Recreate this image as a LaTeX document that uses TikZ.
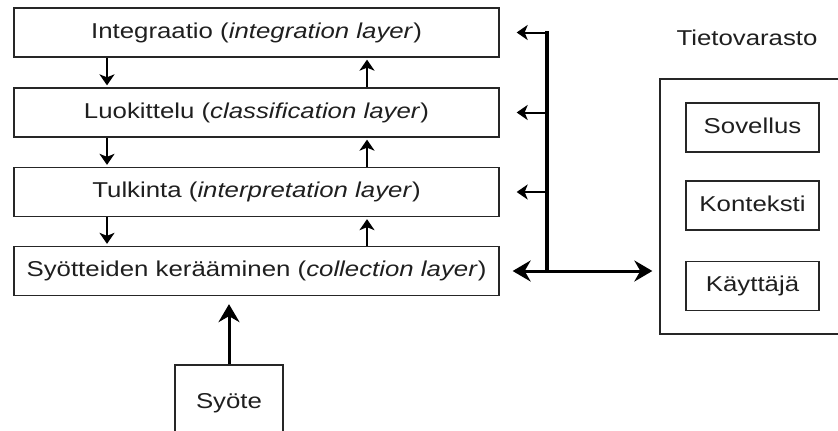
\documentclass[tikz,border=0pt]{standalone}
\usepackage{fontspec}
\setmainfont{Liberation Sans}[FakeStretch=1.2]
\usetikzlibrary{arrows.meta}
\begin{document}
\begin{tikzpicture}[x=1pt,y=-1pt,
  box/.style={draw=black!85, line width=1.3pt, inner sep=0pt,
    text=black!88, font=\fontsize{21.5}{25}\selectfont,
    text height=15pt, text depth=4pt},
  layer/.style={box, minimum width=485pt, minimum height=49pt},
  store/.style={box, minimum width=133pt, minimum height=49pt},
  thinarr/.style={line width=2pt, -{Stealth[length=11pt,width=15pt,inset=3pt]}},
  thickarr/.style={line width=3pt, -{Stealth[length=18pt,width=21pt,inset=6pt]}},
  busline/.style={line width=3.5pt, line cap=rect}]
\useasboundingbox (0,0) rectangle (838,431);
\clip (0,0) rectangle (838,431);

% processing layers (trailing space sets each caption a little left of centre)
\node[layer] (int) at (256.5,32.5) {Integraatio (\textit{integration layer})\hspace{32pt}};
\node[layer] (luo) at (256.5,112.5) {Luokittelu (\textit{classification layer})\hspace{30pt}};
\node[layer] (tul) at (256.5,192) {Tulkinta (\textit{interpretation layer})\hspace{20pt}};
\node[layer] (syo) at (256.5,271) {Syötteiden kerääminen (\textit{collection layer})};

% input box, running off the lower edge
\node[box, minimum width=108pt, minimum height=76pt] (inp) at (229,403) {Syöte};

% data store
\node[box, minimum width=200pt, minimum height=255pt] (store) at (760,206.5) {};
\node[text=black!88, font=\fontsize{21.5}{25}\selectfont, inner sep=0pt,
  text height=15pt, text depth=0pt] (storelbl) at (747,38) {Tietovarasto};
\node[store] (sov) at (752.5,127.5) {Sovellus};
\node[store] (kon) at (752.5,205.5) {Konteksti};
\node[store] (kay) at (752.5,286) {Käyttäjä};

% columns of the up/down arrows between layers
\coordinate (dn) at (107,0);
\coordinate (up) at (367,0);
\foreach \a/\b in {int/luo, luo/tul, tul/syo}{
  \draw[thinarr, shorten >=2pt] (\a.south -| dn) -- (\b.north -| dn);
  \draw[thinarr, shorten >=2pt] (\b.north -| up) -- (\a.south -| up);
}

% shared bus to the data store
\coordinate (bt) at (547,32.5);
\coordinate (bb) at (syo.east -| bt);
\draw[busline] (bt) -- (bb);
\draw[thinarr, shorten >=17pt] (bt) -- (int.east);
\draw[thinarr, shorten >=17pt] (luo.east -| bt) -- (luo.east);
\draw[thinarr, shorten >=17pt] (tul.east -| bt) -- (tul.east);
\draw[thickarr, shorten >=13pt] (bb) -- (syo.east);
\draw[thickarr, shorten >=7pt] (bb) -- (bb -| store.west);

% input feeding the collection layer
\draw[thickarr, shorten >=8pt] (inp.north) -- (syo.south -| inp.north);
\end{tikzpicture}
\end{document}
